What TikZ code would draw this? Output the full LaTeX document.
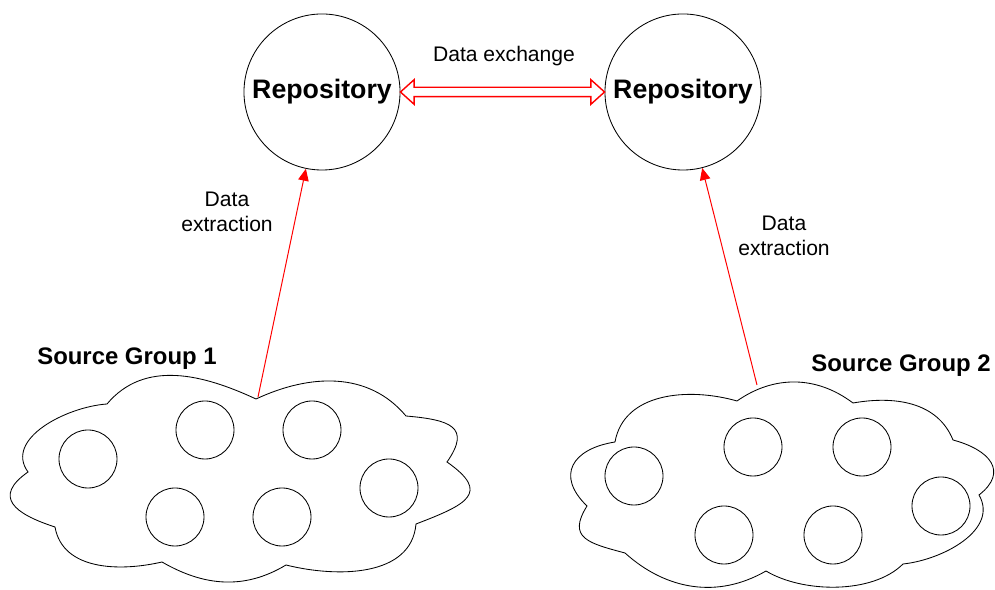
\documentclass[tikz,border=0pt]{standalone}
\usepackage{fontspec}
\setmainfont{Liberation Sans}
\usetikzlibrary{arrows.meta,shapes.arrows,calc}

\begin{document}
\begin{tikzpicture}[x=0.025cm, y=0.025cm,
		repo/.style={circle, draw, line width=0.6pt, minimum size=3.9cm, inner sep=0pt, font=\fontsize{19}{22}\selectfont\bfseries},
		member/.style={circle, draw, line width=0.6pt, minimum size=1.45cm, inner sep=0pt},
		extract/.style={draw=red, line width=0.7pt, -{Triangle[length=8.5pt, width=7.5pt]}},
		xarrow/.style={double arrow, draw=red, line width=1pt, fill=white, inner xsep=0pt, inner ysep=0.1cm,
			minimum height=5.1cm, minimum width=0.575cm, double arrow head extend=0.19cm, double arrow tip angle=84},
		lbl/.style={font=\fontsize{15}{18}\selectfont, align=center},
		grp/.style={font=\fontsize{17}{20}\selectfont\bfseries}]
		\useasboundingbox (0,0) rectangle (995,590);
		
		\node[repo] (repoA) at (322,498) {Repository};
		\node[repo] (repoB) at (683,498) {Repository};
		\node[xarrow] (swap) at ($(repoA.east)!0.5!(repoB.west)$) {};
		\node[lbl] (xchg) at (504,534) {Data exchange};
		
		% left group
		\draw[line width=0.6pt] (107,186) to[out=50,in=155] (256,191) to[out=25,in=130] (406,174)
			to[out=-5,in=55,looseness=1.8] (447,128) to[out=-35,in=21,looseness=2] (416,66)
			to[out=-95,in=-14] (286,25) to[out=211,in=-30] (162,28) to[out=193,in=-80] (55,63)
			to[out=162,in=215,looseness=1.8] (28,118) to[out=126,in=184] (107,186);
		\foreach \x/\y [count=\i] in {88/131, 205/160, 312/160, 389/102, 175/73, 282/73}
			\node[member] (a\i) at (\x,\y) {};
		\node[grp] (grpA) at (127,231) {Source Group 1};
		
		% right group
		\draw[line width=0.6pt] (615,148) to[out=80,in=164] (737,189) to[out=35,in=143] (853,187)
			to[out=10,in=112] (953,150) to[out=-15,in=38,looseness=1.6] (979,95)
			to[out=-60,in=6] (903,26) to[out=225,in=-31,looseness=0.8] (766,19)
			to[out=210,in=-42] (625,37) to[out=165,in=238,looseness=1.6] (587,84)
			to[out=136,in=189,looseness=1.6] (615,148);
		\foreach \x/\y [count=\i] in {634/114, 753/143, 862/143, 941/84, 724/55, 833/55}
			\node[member] (b\i) at (\x,\y) {};
		\node[grp] (grpB) at (901,224) {Source Group 2};
		
		\coordinate (topA) at (258,193);
		\coordinate (topB) at (757,205);
		\draw[extract] (topA) -- (repoA);
		\draw[extract] (topB) -- (repoB);
		\node[lbl] (extA) at (227,378) {Data\\extraction};
		\node[lbl] (extB) at (784,354) {Data\\extraction};
	\end{tikzpicture}
\end{document}
